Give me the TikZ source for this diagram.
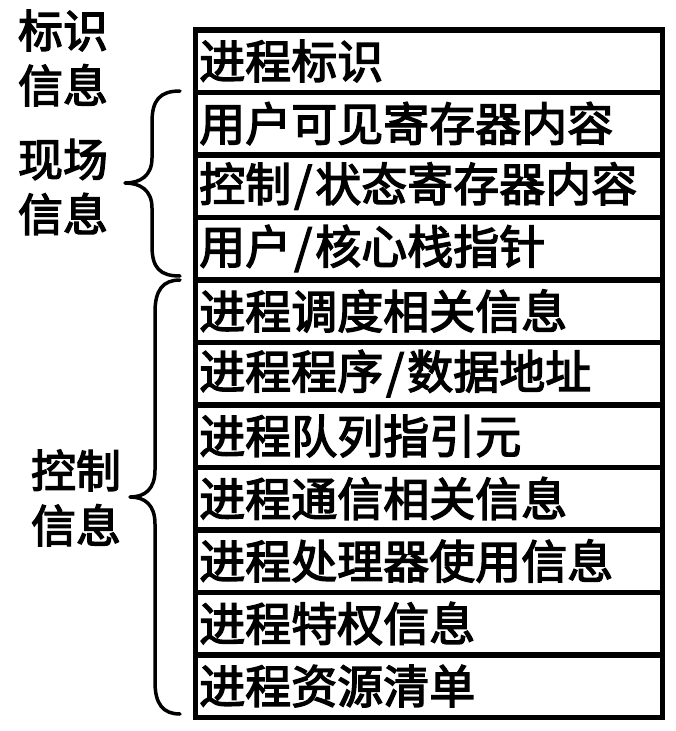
\documentclass[tikz,border=0pt]{standalone}
\usepackage{fontspec}
\newfontfamily\cjk{Noto Sans CJK SC}[FakeBold=3]
\newcommand{\slsh}{\kern3pt/\kern3pt}
\begin{document}
\begin{tikzpicture}[x=1pt,y=-1pt,
  rowbox/.style={draw,line width=5.5pt,anchor=north west,minimum height=62.5pt,
    text width=459pt,inner xsep=4pt,inner ysep=0pt,align=left,
    font=\cjk\fontsize{46}{50}\selectfont},
  sidelabel/.style={align=center,inner sep=0pt,font=\cjk\fontsize{45}{55}\selectfont},
  bracepath/.style={line width=3.5pt,line cap=round,line join=round}]
\useasboundingbox (0,0) rectangle (675,731);
\foreach \t [count=\i] in {进程标识,用户可见寄存器内容,控制\slsh 状态寄存器内容,用户\slsh 核心栈指针,进程调度相关信息,进程程序\slsh 数据地址,进程队列指引元,进程通信相关信息,进程处理器使用信息,进程特权信息,进程资源清单}{
  \node[rowbox] (r\i) at (192.5,{27+62.5*(\i-1)}) {\t};
}
\node[sidelabel] (l1) at (63,58) {标识\\信息};
\node[sidelabel] (l2) at (63,187) {现场\\信息};
\node[sidelabel] (l3) at (76,498) {控制\\信息};
% brace 1
\coordinate (b1t) at (180,91);
\coordinate (b1b) at (180,276);
\coordinate (b1m) at (125,183);
\draw[bracepath] (b1t) .. controls (160,91) and (152,100) .. (152,122) -- (152,158)
  .. controls (152,176) and (140,183) .. (b1m)
  .. controls (140,183) and (152,190) .. (152,208) -- (152,246)
  .. controls (152,268) and (160,276) .. (b1b);
% brace 2
\coordinate (b2t) at (180,280);
\coordinate (b2b) at (180,714);
\coordinate (b2m) at (130,497);
\draw[bracepath] (b2t) .. controls (163,280) and (155,290) .. (155,312) -- (155,470)
  .. controls (155,489) and (145,497) .. (b2m)
  .. controls (145,497) and (155,505) .. (155,524) -- (155,682)
  .. controls (155,704) and (163,714) .. (b2b);
\end{tikzpicture}
\end{document}
